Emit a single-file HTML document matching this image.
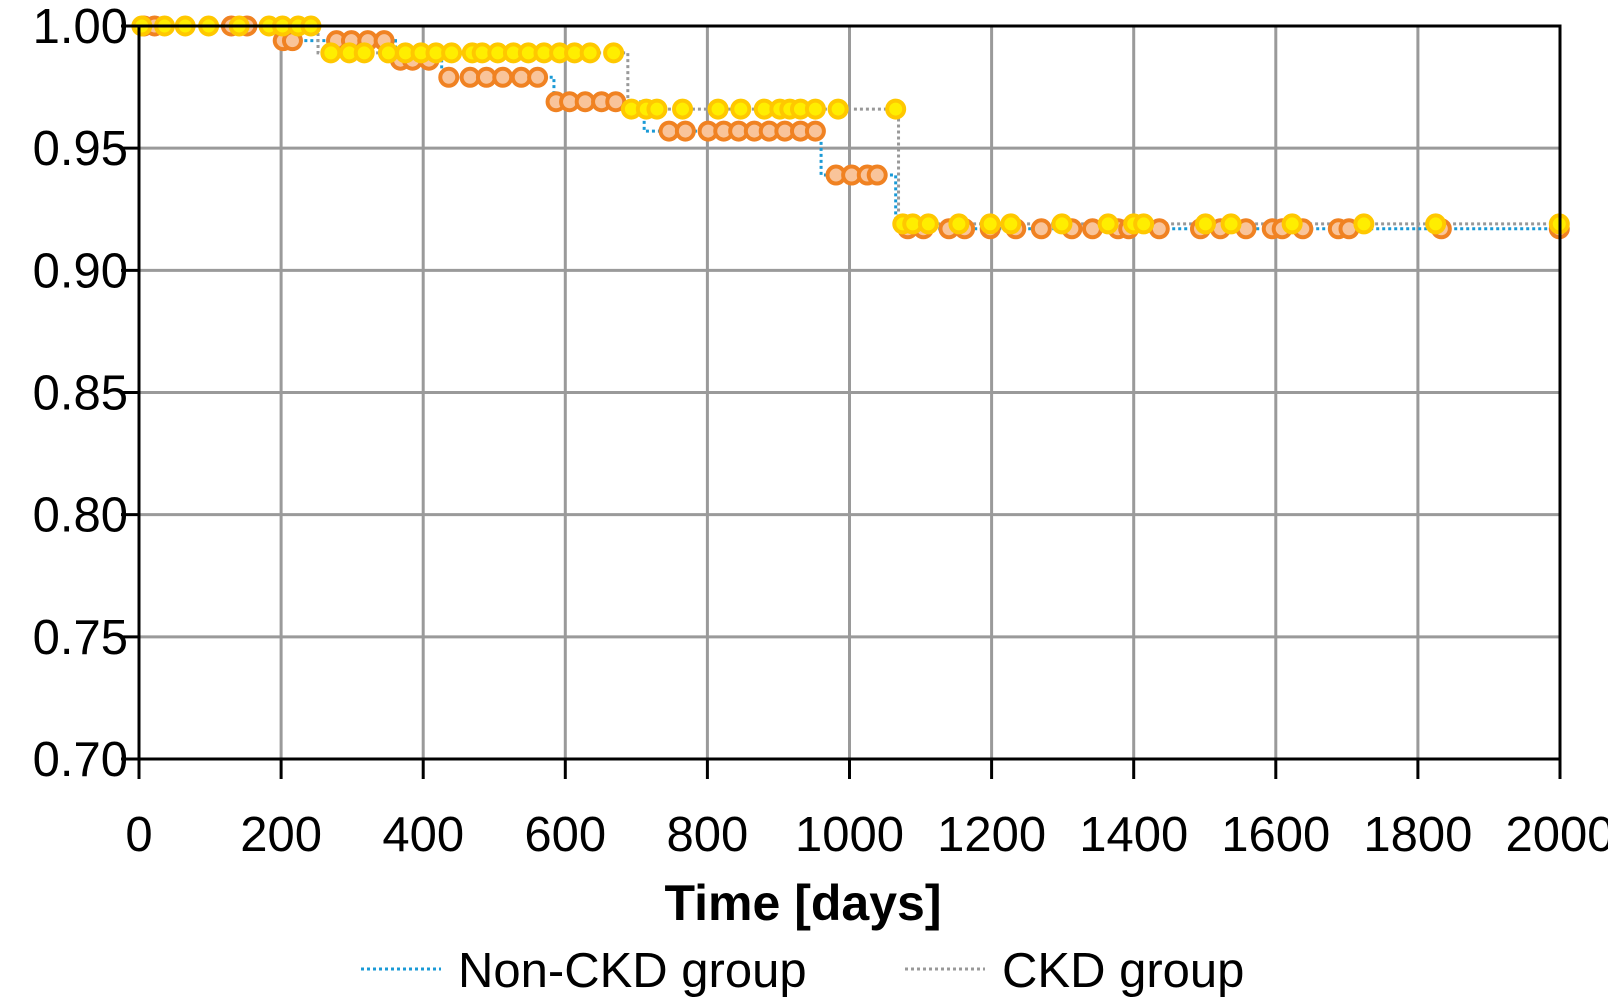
<!DOCTYPE html>
<html><head><meta charset="utf-8"><style>
html,body{margin:0;padding:0;background:#fff;}
svg text{font-family:"Liberation Sans",sans-serif;fill:#000;}
</style></head><body>
<svg id="chart" width="1608" height="1002" xmlns="http://www.w3.org/2000/svg">
<g id="grid"></g>
<g id="lines"></g>
<g id="marks"></g>
<g id="axes"></g>
<text x="803" y="920" font-size="50" font-weight="bold" text-anchor="middle">Time [days]</text>
<g>
<g>
<line x1="361" y1="969" x2="441" y2="969" stroke="#1a9ad6" stroke-width="3" stroke-dasharray="3,3"/>
<text x="458" y="987" font-size="49">Non-CKD group</text></g>
<g>
<line x1="905" y1="969" x2="985" y2="969" stroke="#999" stroke-width="3" stroke-dasharray="3,3"/>
<text x="1002" y="987" font-size="49">CKD group</text></g>
</g>
</svg>
<script>
const xTicks=[0,200,400,600,800,1000,1200,1400,1600,1800,2000];
const yTicks=[0.70,0.75,0.80,0.85,0.90,0.95,1.00];
const nonCkdTimes=[0,195,361,426,584,711,960,1065];
const nonCkdSurv=[1,0.994,0.986,0.979,0.969,0.957,0.939,0.917];
const nonCkdCensor=[7,22,130,152,203,216,278,299,322,345,368,385,408,436,466,489,512,538,561,587,606,628,651,671,746,769,801,823,844,866,887,909,931,952,981,1003,1025,1039,1082,1104,1140,1162,1198,1234,1270,1313,1342,1378,1393,1436,1494,1522,1558,1595,1609,1638,1688,1703,1833,1999];
const ckdTimes=[0,252,688,1069];
const ckdSurv=[1,0.989,0.966,0.919];
const ckdCensor=[4,36,65,98,141,183,202,224,242,270,296,317,351,375,397,418,440,469,483,505,527,548,570,592,613,635,668,693,714,729,765,815,847,880,902,916,931,952,984,1065,1075,1089,1111,1154,1198,1227,1299,1364,1400,1414,1501,1537,1623,1724,1825,1999];
const X0=139,X1=1560,Y0=26,Y1=759;
const sx=d=>X0+d/2000*(X1-X0);
const sy=v=>Y1-(v-0.7)/0.3*(Y1-Y0);
const NS='http://www.w3.org/2000/svg';
function mk(tag,attrs,parent){const e=document.createElementNS(NS,tag);for(const k in attrs)e.setAttribute(k,attrs[k]);parent.appendChild(e);return e;}
const grid=document.getElementById('grid'),axes=document.getElementById('axes'),lines=document.getElementById('lines'),marks=document.getElementById('marks');
xTicks.forEach(t=>{
 const l=mk('line',{x1:sx(t),x2:sx(t),y1:Y0,y2:Y1,stroke:'#9a9a9a','stroke-width':3},grid);
 
 
 const tk=mk('line',{x1:sx(t),x2:sx(t),y1:Y1,y2:Y1+20,stroke:'#000','stroke-width':3},axes);
 
 
 const tx=mk('text',{x:sx(t),y:851,'font-size':49,'text-anchor':'middle'},axes);tx.textContent=t;
 
 
});
yTicks.forEach(v=>{
 const l=mk('line',{x1:X0,x2:X1,y1:sy(v),y2:sy(v),stroke:'#9a9a9a','stroke-width':3},grid);
 
 
 const tk=mk('line',{x1:X0-18,x2:X0,y1:sy(v),y2:sy(v),stroke:'#000','stroke-width':3},axes);
 
 
 const tx=mk('text',{x:128,y:sy(v)+17,'font-size':49,'text-anchor':'end'},axes);tx.textContent=v.toFixed(2);
 
 
});
const fr=mk('rect',{x:X0,y:Y0,width:X1-X0,height:Y1-Y0,fill:'none',stroke:'#000','stroke-width':3},axes);


function stepPath(times,surv){let d='M'+sx(times[0])+','+sy(surv[0]);for(let i=1;i<times.length;i++){d+=' H'+sx(times[i])+' V'+sy(surv[i]);}d+=' H'+sx(2000);return d;}
function survAt(times,surv,t){let s=surv[0];for(let i=0;i<times.length;i++){if(t>=times[i])s=surv[i];}return s;}
const p1=mk('path',{d:stepPath(nonCkdTimes,nonCkdSurv),fill:'none',stroke:'#1a9ad6','stroke-width':3,'stroke-dasharray':'3,3'},lines);


const p2=mk('path',{d:stepPath(ckdTimes,ckdSurv),fill:'none',stroke:'#999','stroke-width':3,'stroke-dasharray':'3,3'},lines);


nonCkdCensor.forEach(t=>{
 const c=mk('circle',{cx:sx(t),cy:sy(survAt(nonCkdTimes,nonCkdSurv,t)),r:8.5,fill:'#f9c49a',stroke:'#f08222','stroke-width':4},marks);
 
 
});
ckdCensor.forEach(t=>{
 const c=mk('circle',{cx:sx(t),cy:sy(survAt(ckdTimes,ckdSurv,t)),r:8.5,fill:'#ffee00',stroke:'#ffc800','stroke-width':4},marks);
 
 
});
</script>
</body></html>
